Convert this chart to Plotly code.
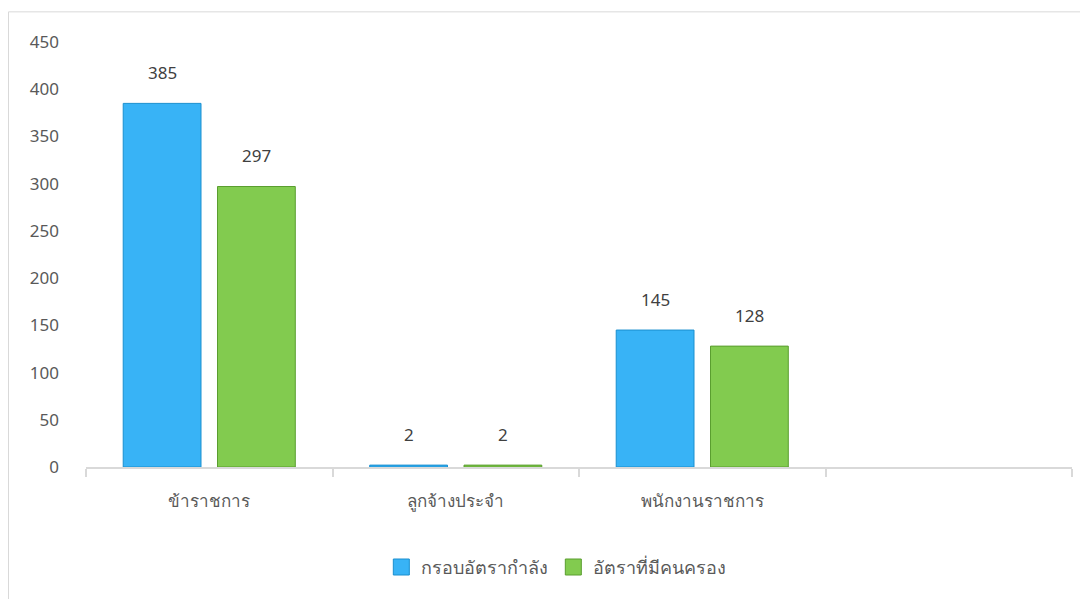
import plotly.graph_objects as go

categories = ["ข้าราชการ", "ลูกจ้างประจำ", "พนักงานราชการ", " "]
series_names = ["กรอบอัตรากำลัง", "อัตราที่มีคนครอง"]
quota = [385, 2, 145, None]
occupied = [297, 2, 128, None]
y_ticks = [0, 50, 100, 150, 200, 250, 300, 350, 400, 450]

# page body has 8px margin -> figure drawn at (8, 8)
W, H = 1080, 591
L, R, T, B = 78, 16, 33.7, 131.6
PW, PH = W - L - R, H - T - B

blue, blue_line = "#38b3f6", "#1a8fcf"
green, green_line = "#82cb4f", "#5a9e2f"

fig = go.Figure()
fig.add_trace(go.Bar(x=categories, y=quota, name=series_names[0], showlegend=False,
                     marker=dict(color=blue, line=dict(color=blue_line, width=1))))
fig.add_trace(go.Bar(x=categories, y=occupied, name=series_names[1], showlegend=False,
                     marker=dict(color=green, line=dict(color=green_line, width=1))))
# legend entries with larger square swatches
fig.add_trace(go.Scatter(x=[None], y=[None], mode="markers", name=series_names[0],
                         marker=dict(symbol="square", size=18, color=blue,
                                     line=dict(color=blue_line, width=1))))
fig.add_trace(go.Scatter(x=[None], y=[None], mode="markers", name=series_names[1],
                         marker=dict(symbol="square", size=18, color=green,
                                     line=dict(color=green_line, width=1))))

ann = []
for i, (a, b) in enumerate(zip(quota, occupied)):
    for off, v in ((-0.19, a), (0.19, b)):
        if v is not None:
            ann.append(dict(x=i + off, y=v, text=str(v), xref="x", yref="y",
                            showarrow=False, yanchor="middle", yshift=31,
                            font=dict(size=17, color="#404040")))

fig.update_layout(
    width=W, height=H,
    margin=dict(l=L, r=R, t=T, b=B, autoexpand=False),
    paper_bgcolor="white", plot_bgcolor="white",
    font=dict(family="Noto Sans, Tahoma, sans-serif", size=17, color="#595959"),
    barmode="group", bargap=0.235, bargroupgap=0.175,
    showlegend=True,
    legend=dict(orientation="h", x=0.477, xanchor="center", y=-0.236, yanchor="middle",
                font=dict(size=18, color="#595959"), itemsizing="trace"),
    annotations=ann,
    shapes=[dict(type="rect", xref="paper", yref="paper",
                 x0=(0.5 - L) / PW, x1=(1100 - L) / PW,
                 y0=-0.5, y1=(H - B - 3.5) / PH,
                 line=dict(color="#d9d9d9", width=1), fillcolor="rgba(0,0,0,0)", layer="below")],
)
fig.update_xaxes(
    type="category", categoryorder="array", categoryarray=categories,
    range=[-0.5, 3.5], showline=True, linecolor="#d9d9d9", linewidth=1.5,
    ticks="outside", tickson="boundaries", ticklen=8, tickcolor="#d9d9d9", tickwidth=1.5,
    showgrid=False, tickfont=dict(size=17, color="#595959"), ticklabelstandoff=18,
)
fig.update_yaxes(
    range=[0, 450], tickvals=y_ticks, showline=False, showgrid=False, zeroline=False,
    tickfont=dict(size=17, color="#595959"), ticklabelstandoff=26,
)

fig.write_html("out.html")
